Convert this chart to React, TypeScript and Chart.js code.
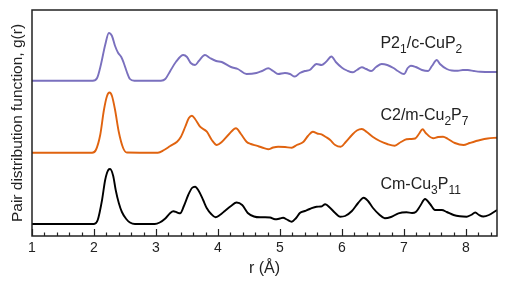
import React, { useEffect, useRef } from 'react';
import { Chart, registerables } from 'chart.js';

Chart.register(...registerables);

// r (Å) sample positions and g(r) values for each structure (relative to its own baseline)
const rCuP2 = [1.00,1.98,2.05,2.11,2.18,2.24,2.29,2.34,2.39,2.44,2.48,2.53,2.58,2.65,3.08,3.15,3.23,3.32,3.44,3.50,3.56,3.63,3.69,3.79,3.87,3.97,4.06,4.21,4.32,4.46,4.62,4.71,4.81,4.89,4.97,5.08,5.16,5.24,5.32,5.40,5.48,5.59,5.67,5.74,5.83,5.90,6.00,6.08,6.17,6.24,6.32,6.39,6.47,6.55,6.64,6.73,6.83,6.90,7.00,7.06,7.11,7.19,7.29,7.39,7.45,7.53,7.58,7.69,7.77,7.87,7.95,8.03,8.13,8.23,8.50];
const gCuP2 = [0,0,0.27,1.57,3.57,4.77,4.47,3.47,2.77,2.37,1.77,0.87,0.17,0,0,0.17,0.97,1.87,2.57,2.37,1.77,1.57,1.97,2.57,2.27,1.97,1.87,1.37,1.17,0.67,0.77,0.97,1.24,0.97,0.67,0.77,0.67,0.42,0.77,0.97,1.07,1.67,1.57,1.87,2.42,1.87,1.30,1.02,0.84,1.07,1.34,1.17,0.97,1.37,1.67,1.57,1.27,0.97,0.67,1.27,1.50,1.37,1.07,0.97,1.47,2.07,1.67,1.17,1.02,1.00,1.07,1.07,0.97,0.90,0.87];

const rCu2P7 = [1.00,1.97,2.03,2.10,2.16,2.21,2.25,2.29,2.34,2.40,2.47,2.53,3.03,3.13,3.23,3.34,3.40,3.47,3.53,3.58,3.63,3.71,3.82,3.90,3.98,4.06,4.18,4.29,4.37,4.46,4.53,4.62,4.71,4.81,4.89,4.97,5.08,5.19,5.27,5.38,5.45,5.53,5.60,5.67,5.74,5.81,5.89,5.98,6.06,6.16,6.24,6.32,6.40,6.50,6.61,6.73,6.85,6.95,7.04,7.11,7.18,7.24,7.30,7.35,7.47,7.55,7.63,7.71,7.82,7.96,8.06,8.23,8.35,8.50];
const gCu2P7 = [0,0,0.27,1.77,4.27,5.67,6.02,5.67,4.27,2.07,0.47,0.02,0,0.27,0.67,1.10,1.57,2.57,3.47,3.70,3.37,2.60,2.10,1.27,0.77,1.07,1.87,2.44,1.87,1.10,0.87,0.70,0.52,0.34,0.52,0.60,0.57,0.50,0.77,1.10,1.67,2.10,1.92,1.84,1.57,1.27,0.77,0.60,1.07,1.77,2.22,2.37,2.07,1.57,1.17,0.87,0.70,1.07,1.34,1.37,1.42,1.87,2.34,1.97,1.44,1.57,1.60,1.37,0.97,0.77,0.97,1.27,1.42,1.50];

const rCu3P11 = [1.00,2.00,2.06,2.13,2.18,2.23,2.26,2.31,2.35,2.40,2.45,2.52,2.58,2.66,2.98,3.06,3.15,3.23,3.28,3.34,3.39,3.45,3.52,3.58,3.63,3.69,3.76,3.82,3.89,3.96,4.03,4.11,4.21,4.30,4.39,4.48,4.58,4.68,4.76,4.84,4.92,5.00,5.05,5.11,5.19,5.26,5.32,5.40,5.48,5.59,5.66,5.73,5.81,5.89,5.97,6.05,6.16,6.26,6.35,6.42,6.50,6.60,6.69,6.79,6.91,7.04,7.13,7.19,7.26,7.34,7.42,7.50,7.61,7.69,7.80,7.90,8.01,8.08,8.15,8.21,8.28,8.37,8.50];
const gCu3P11 = [0,0,0.40,2.40,4.40,5.40,5.50,4.80,3.40,2.10,1.20,0.50,0.15,0,0,0.15,0.55,1.10,1.27,1.15,1.07,1.80,2.90,3.60,3.73,3.30,2.40,1.57,1.00,0.67,0.90,1.30,1.80,2.15,1.90,1.10,0.75,0.67,0.67,0.65,0.47,0.55,0.63,0.45,0.23,0.60,1.10,1.30,1.50,1.73,1.75,1.97,1.60,1.10,0.73,0.80,1.30,2.10,2.63,2.30,1.60,0.95,0.57,0.70,1.07,1.17,1.10,1.20,1.80,2.50,2.00,1.40,1.40,1.20,0.90,0.77,0.73,0.90,1.15,0.90,0.75,0.90,1.40];

// series names (with _{} for subscripts), vertical offsets, colours
const seriesNames = ['P2_{1}/c-CuP_{2}', 'C2/m-Cu_{2}P_{7}', 'Cm-Cu_{3}P_{11}'];
const seriesOffsets = [15.53, 8.33, 1.2];
const seriesColors = ['#7a70be', '#e0630f', '#000000'];
const labelYValues = [18.8, 11.6, 4.75];
const labelRValue = 6.62;

const xTickLabels = ['1', '2', '3', '4', '5', '6', '7', '8'];

const FONT = "'Liberation Sans', Arial, Helvetica, sans-serif";

function parseLabel(s: string) {
  const parts: { t: string; sub: boolean }[] = [];
  const re = /_\{([^}]*)\}/g;
  let last = 0;
  let m: RegExpExecArray | null;
  while ((m = re.exec(s))) {
    if (m.index > last) parts.push({ t: s.slice(last, m.index), sub: false });
    parts.push({ t: m[1], sub: true });
    last = m.index + m[0].length;
  }
  if (last < s.length) parts.push({ t: s.slice(last), sub: false });
  return parts;
}

const framePlugin = {
  id: 'frameTicks',
  afterDraw(chart: any) {
    const { ctx, chartArea } = chart;
    const xs = chart.scales.x;
    const ys = chart.scales.y;
    ctx.save();
    ctx.strokeStyle = '#222';
    ctx.lineWidth = 1.5;
    ctx.strokeRect(chartArea.left, chartArea.top, chartArea.right - chartArea.left, chartArea.bottom - chartArea.top);
    // inward ticks: major every 1, minor every 0.2
    ctx.lineWidth = 1.2;
    for (let i = 0; i <= 37; i++) {
      const v = 1 + i * 0.2;
      if (v > 8.5 + 1e-9) break;
      const px = Math.round(xs.getPixelForValue(v)) + 0.5;
      const major = i % 5 === 0;
      ctx.beginPath();
      ctx.moveTo(px, chartArea.bottom);
      ctx.lineTo(px, chartArea.bottom - (major ? 7 : 3.5));
      ctx.stroke();
    }
    // series labels
    const mainSize = 16;
    const subSize = 12;
    ctx.fillStyle = '#222';
    ctx.textBaseline = 'alphabetic';
    ctx.textAlign = 'left';
    seriesNames.forEach((name, k) => {
      let x = xs.getPixelForValue(labelRValue);
      const y = ys.getPixelForValue(labelYValues[k]);
      parseLabel(name).forEach((p) => {
        ctx.font = `${p.sub ? subSize : mainSize}px ${FONT}`;
        ctx.fillText(p.t, x, p.sub ? y + 5 : y);
        x += ctx.measureText(p.t).width;
      });
    });
    ctx.restore();
  },
};

export default function App() {
  const ref = useRef<HTMLCanvasElement | null>(null);
  useEffect(() => {
    document.body.style.margin = '0';
    const rs = [rCuP2, rCu2P7, rCu3P11];
    const gs = [gCuP2, gCu2P7, gCu3P11];
    const datasets = seriesNames.map((name, k) => ({
      label: name,
      data: rs[k].map((r, i) => ({ x: r, y: gs[k][i] + seriesOffsets[k] })),
      borderColor: seriesColors[k],
      backgroundColor: seriesColors[k],
      borderWidth: 1.9,
      pointRadius: 0,
      fill: false,
      cubicInterpolationMode: 'monotone' as const,
      tension: 0.4,
    }));
    const chart = new Chart(ref.current as HTMLCanvasElement, {
      type: 'line',
      data: { datasets },
      options: {
        animation: false,
        responsive: false,
        maintainAspectRatio: false,
        layout: { padding: { top: 10, right: 10, left: 0, bottom: 0 } },
        plugins: { legend: { display: false }, tooltip: { enabled: false }, title: { display: false } },
        scales: {
          x: {
            type: 'linear',
            min: 1,
            max: 8.5,
            grid: { display: false, drawTicks: false },
            border: { display: false },
            ticks: {
              stepSize: 1,
              includeBounds: false,
              padding: 4,
              color: '#222',
              font: { family: FONT, size: 14 },
              callback: (v: any) => {
                const idx = xTickLabels.indexOf(String(v));
                return idx >= 0 ? xTickLabels[idx] : '';
              },
            },
            title: {
              display: true,
              text: 'r (Å)',
              color: '#222',
              font: { family: FONT, size: 16 },
              padding: { top: 0, bottom: 11 },
            },
            afterFit: (s: any) => { s.height = 53; },
          },
          y: {
            type: 'linear',
            min: 0,
            max: 22.6,
            grid: { display: false, drawTicks: false },
            border: { display: false },
            ticks: { display: false },
            title: {
              display: true,
              text: 'Pair distribution function, g(r)',
              color: '#222',
              font: { family: FONT, size: 15.5 },
              padding: { top: 8, bottom: 0 },
            },
            afterFit: (s: any) => { s.width = 32; },
          },
        },
      },
      plugins: [framePlugin],
    });
    return () => chart.destroy();
  }, []);
  return (
    <div style={{ width: 507, height: 289 }}>
      <canvas ref={ref} width={507} height={289} style={{ display: 'block' }} />
    </div>
  );
}
